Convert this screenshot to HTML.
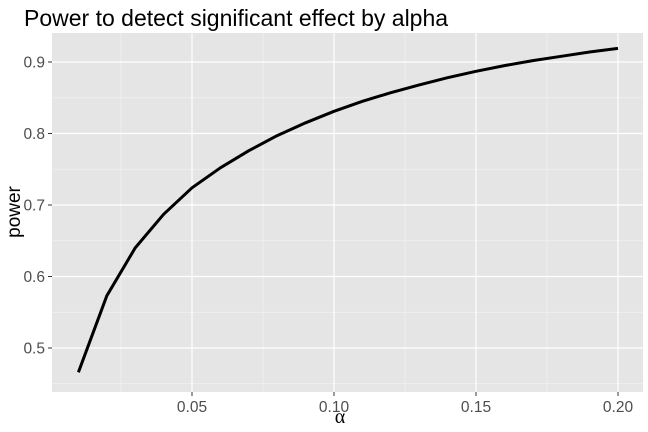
<!DOCTYPE html>
<html><head><meta charset="utf-8"><style>
body{margin:0;background:#fff;}
svg{display:block;font-family:"Liberation Sans",sans-serif;}
</style></head><body>
<svg id="chart" width="648" height="432">
<text x="24" y="26" font-size="23" fill="#000">Power to detect significant effect by alpha</text>
<rect x="52" y="33" width="591" height="359" fill="#e5e5e5"/>
<g id="grid"></g>
<g id="axes"></g>
<path id="line" fill="none" stroke="#000" stroke-width="3" stroke-linejoin="round"/>
<text x="340" y="423" font-size="20" text-anchor="middle" font-family="Liberation Serif, serif">α</text>
<text transform="translate(20,212) rotate(-90)" font-size="19" text-anchor="middle">power</text>
</svg>
<script>
const alphas=[0.01,0.02,0.03,0.04,0.05,0.06,0.07,0.08,0.09,0.10,0.11,0.12,0.13,0.14,0.15,0.16,0.17,0.18,0.19,0.20];
const powers=[0.466,0.573,0.640,0.687,0.724,0.752,0.776,0.797,0.815,0.831,0.845,0.857,0.868,0.878,0.887,0.895,0.902,0.908,0.914,0.919];
const xTicks=[0.05,0.10,0.15,0.20];
const xTickLabels=["0.05","0.10","0.15","0.20"];
const yTicks=[0.5,0.6,0.7,0.8,0.9];
const yTickLabels=["0.5","0.6","0.7","0.8","0.9"];
const NS="http://www.w3.org/2000/svg";
function x(a){return 192+(a-0.05)*2840;}
function y(v){return 348-(v-0.5)*715;}
const grid=document.getElementById('grid'),axes=document.getElementById('axes');
function mk(tag,attrs,parent){const e=document.createElementNS(NS,tag);for(const k in attrs)e.setAttribute(k,attrs[k]);parent.appendChild(e);return e;}
const xm=[xTicks[0]-0.025].concat(xTicks.map(t=>t+0.025));
xm.forEach(t=>{const l=mk('line',{x1:x(t),x2:x(t),y1:33,y2:392,stroke:'#f2f2f2','stroke-width':0.7},grid);

});
const ym=[yTicks[0]-0.05].concat(yTicks.map(t=>t+0.05));
ym.forEach(t=>{if(y(t)<33)return;const l=mk('line',{x1:52,x2:643,y1:y(t),y2:y(t),stroke:'#f2f2f2','stroke-width':0.7},grid);

});
xTicks.forEach((t,i)=>{const l=mk('line',{x1:x(t),x2:x(t),y1:33,y2:392,stroke:'#fff','stroke-width':1.2},grid);


mk('line',{x1:x(t),x2:x(t),y1:392,y2:396,stroke:'#333','stroke-width':1},axes);
const tx=mk('text',{x:x(t),y:412,'font-size':15.5,fill:'#4d4d4d','text-anchor':'middle'},axes);tx.textContent=xTickLabels[i];

});
yTicks.forEach((t,i)=>{const l=mk('line',{x1:52,x2:643,y1:y(t),y2:y(t),stroke:'#fff','stroke-width':1.2},grid);


mk('line',{x1:48,x2:52,y1:y(t),y2:y(t),stroke:'#333','stroke-width':1},axes);
const tx=mk('text',{x:45,y:y(t)+5.5,'font-size':15.5,fill:'#4d4d4d','text-anchor':'end'},axes);tx.textContent=yTickLabels[i];

});
document.getElementById('line').setAttribute('d',alphas.map((a,i)=>(i?'L':'M')+x(a).toFixed(1)+','+y(powers[i]).toFixed(1)).join(''));
</script>
</body></html>
